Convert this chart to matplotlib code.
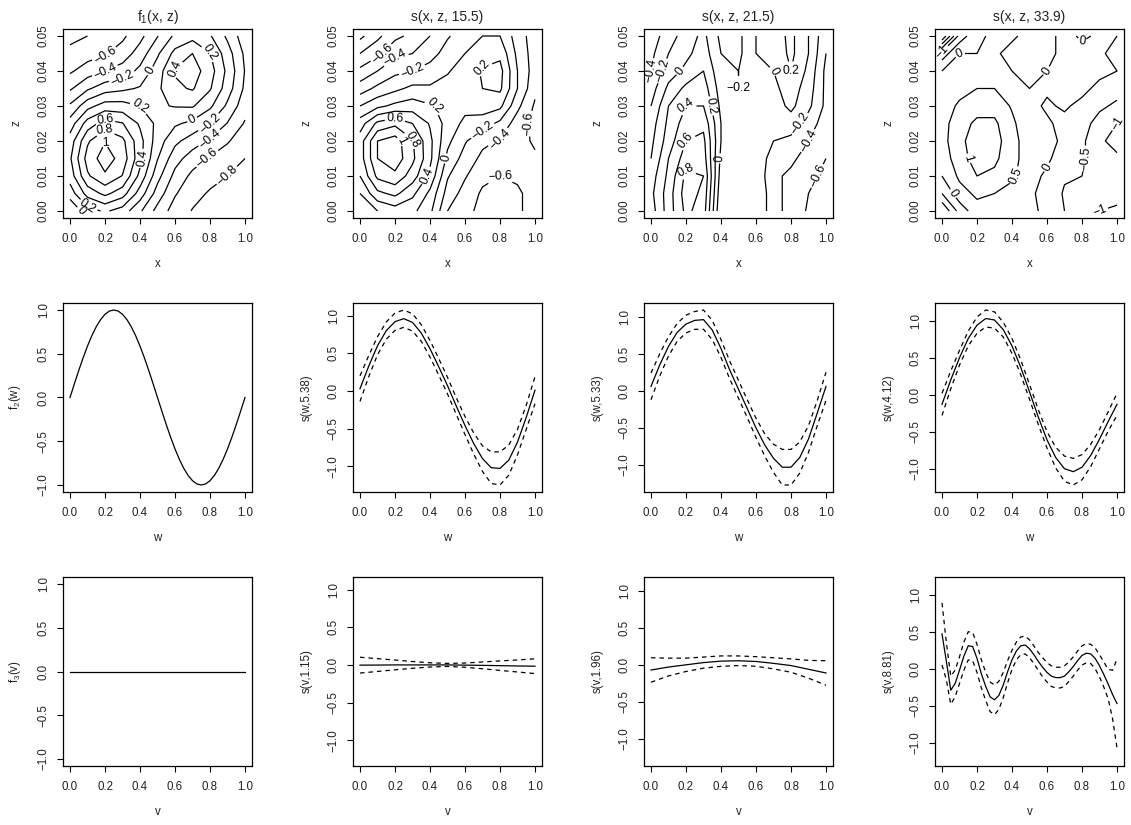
import numpy as np
import matplotlib
matplotlib.use("Agg")
import matplotlib.pyplot as plt
from matplotlib.ticker import FuncFormatter

plt.rcParams['font.family'] = ['Liberation Sans', 'DejaVu Sans']
plt.rcParams['mathtext.default'] = 'regular'
plt.rcParams['contour.negative_linestyle'] = 'solid'

# ---------------- data: contour surfaces (rows: z, cols: x) ----------------
x_grid = [0.0, 0.1, 0.2, 0.3, 0.4, 0.5, 0.6, 0.7, 0.8, 0.9, 1.0]
z_grid = [0.000, 0.005, 0.010, 0.015, 0.020, 0.025, 0.030, 0.035, 0.040, 0.045, 0.050]

f1_xz = [
    [-0.18, 0.11, 0.23, 0.11, -0.17, -0.47, -0.69, -0.81, -0.86, -0.88, -0.89],
    [0.09, 0.48, 0.65, 0.49, 0.11, -0.29, -0.58, -0.74, -0.82, -0.85, -0.88],
    [0.29, 0.77, 0.97, 0.79, 0.34, -0.13, -0.46, -0.65, -0.74, -0.80, -0.85],
    [0.37, 0.88, 1.10, 0.92, 0.47, 0.01, -0.32, -0.50, -0.62, -0.71, -0.80],
    [0.29, 0.77, 0.99, 0.85, 0.47, 0.10, -0.15, -0.30, -0.43, -0.58, -0.72],
    [0.09, 0.49, 0.69, 0.61, 0.37, 0.15, 0.03, -0.05, -0.20, -0.41, -0.62],
    [-0.17, 0.13, 0.29, 0.28, 0.20, 0.18, 0.21, 0.22, 0.04, -0.24, -0.52],
    [-0.43, -0.23, -0.09, -0.04, 0.02, 0.16, 0.36, 0.42, 0.22, -0.10, -0.44],
    [-0.63, -0.50, -0.40, -0.31, -0.15, 0.10, 0.42, 0.50, 0.29, -0.05, -0.41],
    [-0.76, -0.69, -0.62, -0.51, -0.31, -0.03, 0.26, 0.40, 0.21, -0.11, -0.44],
    [-0.84, -0.80, -0.74, -0.64, -0.46, -0.21, 0.04, 0.13, 0.02, -0.24, -0.52],
]

s_xz_155 = [
    [0.00, 0.20, 0.30, 0.25, 0.05, -0.40, -0.55, -0.65, -0.70, -0.62, -0.55],
    [0.20, 0.55, 0.65, 0.45, 0.15, -0.28, -0.48, -0.63, -0.68, -0.62, -0.55],
    [0.40, 0.85, 0.95, 0.70, 0.35, -0.18, -0.38, -0.55, -0.60, -0.58, -0.56],
    [0.50, 1.00, 1.12, 0.85, 0.45, -0.05, -0.28, -0.45, -0.50, -0.55, -0.58],
    [0.50, 1.00, 1.10, 0.82, 0.45, 0.05, -0.18, -0.35, -0.42, -0.55, -0.62],
    [0.30, 0.65, 0.75, 0.60, 0.38, 0.12, -0.05, -0.10, -0.25, -0.50, -0.66],
    [0.00, 0.15, 0.25, 0.30, 0.22, 0.14, 0.06, 0.10, 0.05, -0.35, -0.63],
    [-0.30, -0.15, -0.05, 0.05, 0.03, 0.08, 0.12, 0.20, 0.24, -0.20, -0.55],
    [-0.55, -0.40, -0.25, -0.20, -0.12, -0.02, 0.10, 0.22, 0.27, -0.20, -0.50],
    [-0.80, -0.65, -0.45, -0.40, -0.28, -0.12, 0.00, 0.12, 0.15, -0.25, -0.50],
    [-1.05, -0.85, -0.65, -0.55, -0.40, -0.22, -0.10, 0.00, 0.00, -0.30, -0.50],
]

s_xz_215 = [
    [0.10, 0.50, 0.85, 0.70, -0.20, -0.10, -0.05, -0.30, -0.50, -0.62, -0.70],
    [0.15, 0.50, 0.90, 0.75, -0.15, -0.05, -0.05, -0.30, -0.50, -0.60, -0.70],
    [0.10, 0.45, 0.85, 0.80, -0.10, 0.00, -0.05, -0.35, -0.45, -0.55, -0.65],
    [0.00, 0.40, 0.70, 0.70, -0.05, 0.00, -0.05, -0.30, -0.35, -0.50, -0.60],
    [-0.05, 0.30, 0.60, 0.65, 0.00, -0.05, -0.05, -0.20, -0.25, -0.40, -0.55],
    [-0.10, 0.25, 0.50, 0.55, 0.00, -0.10, -0.05, -0.15, -0.10, -0.30, -0.50],
    [-0.20, 0.20, 0.40, 0.40, -0.05, -0.15, -0.05, -0.10, 0.05, -0.15, -0.45],
    [-0.30, 0.05, 0.25, 0.30, -0.10, -0.20, -0.05, -0.05, 0.10, -0.10, -0.45],
    [-0.40, -0.10, 0.05, 0.20, -0.15, -0.20, 0.00, 0.00, 0.20, -0.05, -0.45],
    [-0.45, -0.20, -0.05, 0.10, -0.20, -0.25, 0.00, 0.05, 0.25, 0.00, -0.40],
    [-0.50, -0.30, -0.10, 0.05, -0.25, -0.25, 0.00, 0.10, 0.25, 0.00, -0.35],
]

s_xz_339 = [
    [-1.50, -0.30, 0.30, 0.20, 0.10, 0.20, -0.20, -0.50, -0.70, -1.00, -1.10],
    [-0.50, 0.30, 0.60, 0.50, 0.30, 0.10, -0.20, -0.55, -0.60, -0.80, -0.80],
    [0.00, 0.60, 1.00, 0.90, 0.60, 0.20, -0.10, -0.45, -0.50, -0.60, -0.60],
    [0.20, 0.80, 1.20, 1.10, 0.70, 0.20, 0.10, -0.30, -0.45, -0.70, -0.90],
    [0.30, 0.90, 1.20, 1.20, 0.70, 0.20, 0.15, -0.10, -0.40, -0.90, -1.20],
    [0.30, 0.80, 1.10, 1.10, 0.60, 0.15, 0.05, -0.10, -0.30, -0.70, -1.00],
    [0.20, 0.60, 0.80, 0.80, 0.45, 0.10, -0.05, 0.05, -0.10, -0.40, -0.60],
    [0.10, 0.30, 0.50, 0.50, 0.20, 0.00, 0.05, 0.15, 0.10, -0.10, -0.30],
    [0.00, 0.20, 0.20, 0.20, 0.00, -0.20, 0.00, 0.20, 0.25, 0.10, 0.00],
    [-0.80, 0.00, 0.00, 0.05, -0.10, -0.20, -0.10, 0.10, 0.10, 0.05, -0.10],
    [-3.00, -0.80, -0.10, 0.10, 0.05, -0.10, -0.10, 0.10, -0.05, 0.05, 0.00],
]

levels_02 = [-1.0, -0.8, -0.6, -0.4, -0.2, 0.0, 0.2, 0.4, 0.6, 0.8, 1.0, 1.2]
levels_05 = [-3.0, -2.5, -2.0, -1.5, -1.0, -0.5, 0.0, 0.5, 1.0, 1.5]

# ---------------- data: w smooths ----------------
w_true = [0.0, 0.025, 0.05, 0.075, 0.1, 0.125, 0.15, 0.175, 0.2, 0.225, 0.25,
          0.275, 0.3, 0.325, 0.35, 0.375, 0.4, 0.425, 0.45, 0.475, 0.5,
          0.525, 0.55, 0.575, 0.6, 0.625, 0.65, 0.675, 0.7, 0.725, 0.75,
          0.775, 0.8, 0.825, 0.85, 0.875, 0.9, 0.925, 0.95, 0.975, 1.0]
f2_w = [0.0, 0.156, 0.309, 0.454, 0.588, 0.707, 0.809, 0.891, 0.951, 0.988, 1.0,
        0.988, 0.951, 0.891, 0.809, 0.707, 0.588, 0.454, 0.309, 0.156, 0.0,
        -0.156, -0.309, -0.454, -0.588, -0.707, -0.809, -0.891, -0.951, -0.988, -1.0,
        -0.988, -0.951, -0.891, -0.809, -0.707, -0.588, -0.454, -0.309, -0.156, 0.0]

w_fit = [0.0, 0.05, 0.1, 0.15, 0.2, 0.25, 0.3, 0.35, 0.4, 0.45, 0.5,
         0.55, 0.6, 0.65, 0.7, 0.75, 0.8, 0.85, 0.9, 0.95, 1.0]
s_w_538 = [0.03, 0.33, 0.60, 0.80, 0.92, 0.96, 0.91, 0.77, 0.56, 0.32, 0.07,
           -0.20, -0.46, -0.70, -0.90, -1.02, -1.03, -0.92, -0.68, -0.35, 0.01]
s_w_538_band = [0.17, 0.14, 0.12, 0.115, 0.115, 0.115, 0.115, 0.11, 0.11, 0.11, 0.11,
                0.11, 0.12, 0.14, 0.17, 0.21, 0.22, 0.20, 0.17, 0.16, 0.18]
s_w_533 = [0.06, 0.35, 0.60, 0.79, 0.90, 0.95, 0.96, 0.82, 0.57, 0.28, 0.02,
           -0.24, -0.50, -0.73, -0.91, -1.03, -1.03, -0.90, -0.65, -0.30, 0.06]
s_w_533_band = [0.18, 0.15, 0.13, 0.12, 0.12, 0.12, 0.13, 0.13, 0.12, 0.12, 0.12,
                0.12, 0.13, 0.15, 0.19, 0.24, 0.24, 0.21, 0.18, 0.17, 0.19]
s_w_412 = [-0.13, 0.20, 0.50, 0.76, 0.94, 1.03, 1.01, 0.88, 0.66, 0.37, 0.04,
           -0.30, -0.61, -0.85, -1.00, -1.04, -0.98, -0.82, -0.60, -0.36, -0.13]
s_w_412_band = [0.15, 0.12, 0.10, 0.10, 0.11, 0.115, 0.11, 0.10, 0.10, 0.10, 0.10,
                0.10, 0.11, 0.14, 0.17, 0.18, 0.17, 0.15, 0.13, 0.13, 0.15]

# ---------------- data: v smooths ----------------
v_true = [0.0, 0.5, 1.0]
f3_v = [0.0, 0.0, 0.0]

v_fit = [0.0, 0.1, 0.2, 0.3, 0.4, 0.5, 0.6, 0.7, 0.8, 0.9, 1.0]
s_v_115 = [-0.003, -0.002, 0.0, 0.0, 0.0, 0.0, -0.003, -0.006, -0.010, -0.014, -0.017]
s_v_115_band = [0.105, 0.085, 0.065, 0.045, 0.028, 0.020, 0.028, 0.045, 0.063, 0.080, 0.098]
s_v_196 = [-0.07, -0.03, 0.00, 0.03, 0.05, 0.055, 0.045, 0.02, -0.01, -0.06, -0.11]
s_v_196_band = [0.165, 0.12, 0.09, 0.075, 0.07, 0.065, 0.065, 0.075, 0.09, 0.12, 0.165]

v_fine = [0.0, 0.025, 0.05, 0.075, 0.1, 0.125, 0.15, 0.175, 0.2, 0.225, 0.25,
          0.275, 0.3, 0.325, 0.35, 0.375, 0.4, 0.425, 0.45, 0.475, 0.5,
          0.525, 0.55, 0.575, 0.6, 0.625, 0.65, 0.675, 0.7, 0.725, 0.75,
          0.775, 0.8, 0.825, 0.85, 0.875, 0.9, 0.925, 0.95, 0.975, 1.0]
s_v_881 = [0.47, 0.10, -0.29, -0.20, -0.02, 0.17, 0.31, 0.30, 0.14, -0.07, -0.24,
           -0.38, -0.42, -0.36, -0.22, -0.04, 0.12, 0.24, 0.31, 0.32, 0.27,
           0.19, 0.10, 0.02, -0.05, -0.10, -0.12, -0.12, -0.10, -0.04, 0.03,
           0.11, 0.18, 0.21, 0.20, 0.14, 0.04, -0.08, -0.21, -0.35, -0.47]
s_v_881_band = [0.42, 0.25, 0.19, 0.18, 0.18, 0.19, 0.19, 0.19, 0.19, 0.19, 0.19,
                0.20, 0.20, 0.19, 0.17, 0.15, 0.13, 0.12, 0.12, 0.12, 0.12,
                0.12, 0.12, 0.13, 0.13, 0.14, 0.14, 0.14, 0.14, 0.13, 0.13,
                0.13, 0.13, 0.13, 0.13, 0.14, 0.15, 0.17, 0.20, 0.33, 0.60]

contour_titles = ["f$_1$(x, z)", "s(x, z, 15.5)", "s(x, z, 21.5)", "s(x, z, 33.9)"]
w_labels = ["f$_2$(w)", "s(w,5.38)", "s(w,5.33)", "s(w,4.12)"]
v_labels = ["f$_3$(v)", "s(v,1.15)", "s(v,1.96)", "s(v,8.81)"]

# ---------------- layout ----------------
W, H = 1131, 825
fig = plt.figure(figsize=(W / 100, H / 100), dpi=100)
lefts = [63, 353, 644, 935]
tops = [29, 303, 577]
size = 189

FS = 8.3
CFS = 8.8
LW = 0.9
DASH = (0, (3.6, 3.2))
TXT = '#222222'


def minus(s):
    return s.replace('-', '\u2212')


def make_ax(col, row):
    ax = fig.add_axes([lefts[col] / W, 1 - (tops[row] + size) / H, size / W, size / H])
    for sp in ax.spines.values():
        sp.set_linewidth(0.9)
    ax.tick_params(direction='out', length=4.5, width=0.8, labelsize=FS, pad=6,
                   colors='black', labelcolor=TXT)
    ax.tick_params(axis='y', labelrotation=90, pad=5)
    ax.set_xlim(-0.04, 1.04)
    ax.set_xticks([0.0, 0.2, 0.4, 0.6, 0.8, 1.0])
    ax.xaxis.set_major_formatter(FuncFormatter(lambda v, p: minus(f"{v:.1f}")))
    return ax


def finish_y(ax):
    for lab in ax.get_yticklabels():
        lab.set_va('center')


def clabel_fmt(v):
    if abs(v) < 1e-9:
        return "0"
    return minus(f"{v:g}")


contour_data = [(f1_xz, levels_02), (s_xz_155, levels_02),
                (s_xz_215, levels_02), (s_xz_339, levels_05)]

for c, (grid, levels) in enumerate(contour_data):
    ax = make_ax(c, 0)
    cs = ax.contour(x_grid, z_grid, np.array(grid), levels=levels,
                    colors='black', linewidths=LW, linestyles='solid')
    ax.clabel(cs, inline=True, inline_spacing=2, fontsize=CFS, fmt=clabel_fmt)
    ax.set_ylim(-0.002, 0.052)
    ax.set_yticks([0.00, 0.01, 0.02, 0.03, 0.04, 0.05])
    ax.yaxis.set_major_formatter(FuncFormatter(lambda v, p: f"{v:.2f}"))
    ax.set_title(contour_titles[c], fontsize=10, pad=6, color=TXT)
    ax.set_xlabel("x", fontsize=FS, labelpad=10, color=TXT)
    ax.set_ylabel("z", fontsize=FS, labelpad=11, color=TXT)
    finish_y(ax)

w_data = [(f2_w, None), (s_w_538, s_w_538_band), (s_w_533, s_w_533_band), (s_w_412, s_w_412_band)]
v_data = [(v_true, f3_v, None), (v_fit, s_v_115, s_v_115_band),
          (v_fit, s_v_196, s_v_196_band), (v_fine, s_v_881, s_v_881_band)]

yfmt = FuncFormatter(lambda v, p: minus(f"{v:.1f}"))

for c in range(4):
    fit, band = w_data[c]
    if band is None:
        wx = np.array(w_true)
        y = np.array(fit)
        lo, hi = y.min(), y.max()
    else:
        wx = np.array(w_fit)
        y = np.array(fit)
        b = np.array(band)
        lo, hi = (y - b).min(), (y + b).max()
    r = hi - lo
    ylim = (lo - 0.04 * r, hi + 0.04 * r)

    ax = make_ax(c, 1)
    ax.plot(wx, y, color='black', lw=LW)
    if band is not None:
        ax.plot(wx, y + b, color='black', lw=LW, linestyle=DASH)
        ax.plot(wx, y - b, color='black', lw=LW, linestyle=DASH)
    ax.set_ylim(*ylim)
    ax.set_yticks([-1.0, -0.5, 0.0, 0.5, 1.0])
    ax.yaxis.set_major_formatter(yfmt)
    ax.set_xlabel("w", fontsize=FS, labelpad=10, color=TXT)
    ax.set_ylabel(w_labels[c], fontsize=FS, labelpad=11, color=TXT)
    finish_y(ax)

    vx, vy, vb = v_data[c]
    vx = np.array(vx)
    vy = np.array(vy)
    ax = make_ax(c, 2)
    ax.plot(vx, vy, color='black', lw=LW)
    if vb is not None:
        vb = np.array(vb)
        ax.plot(vx, vy + vb, color='black', lw=LW, linestyle=DASH)
        ax.plot(vx, vy - vb, color='black', lw=LW, linestyle=DASH)
    ax.set_ylim(*ylim)
    ax.set_yticks([-1.0, -0.5, 0.0, 0.5, 1.0])
    ax.yaxis.set_major_formatter(yfmt)
    ax.set_xlabel("v", fontsize=FS, labelpad=10, color=TXT)
    ax.set_ylabel(v_labels[c], fontsize=FS, labelpad=11, color=TXT)
    finish_y(ax)

fig.savefig("out.png", dpi=100, facecolor='white')
